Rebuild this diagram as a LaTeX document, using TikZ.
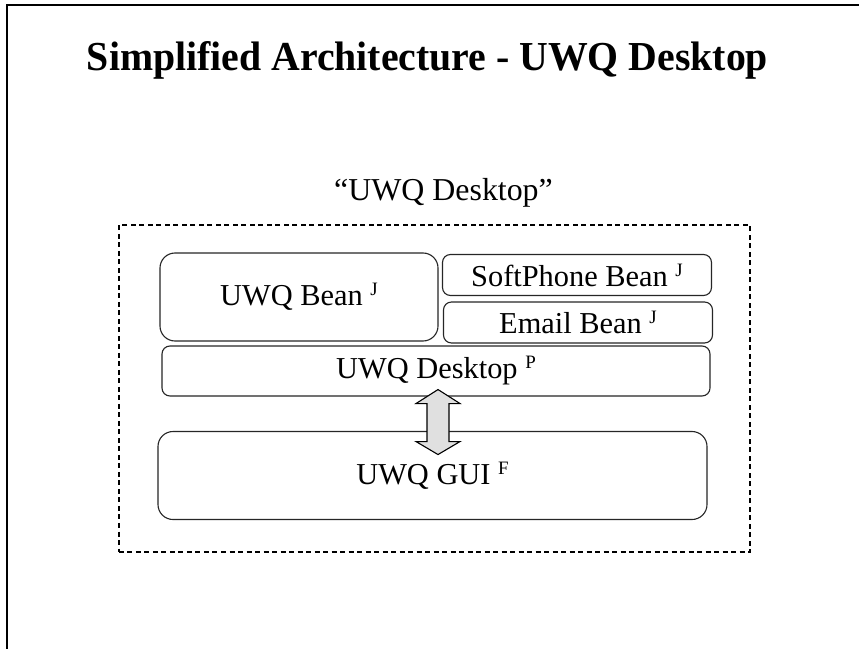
\documentclass[tikz,border=0pt]{standalone}
\usepackage{fontspec}
\setmainfont{Liberation Serif}
\usetikzlibrary{calc}

% superscript letter after a module name
\newcommand{\kindmark}[1]{\raisebox{10bp}{\fontsize{19}{19}\selectfont #1}}

\tikzset{
  frameline/.style={line width=1.5bp, black},
  groupbox/.style={draw=black, line width=1.2bp, dash pattern=on 5bp off 3.5bp},
  module/.style={draw=black!85, line width=1.1bp, fill=white, inner sep=0pt,
                 font=\fontsize{30.5}{30.5}\selectfont},
  bigmodule/.style={module, rounded corners=15bp},
  smallmodule/.style={module, rounded corners=8bp},
  linkarrow/.style={draw=black, line width=1.1bp, fill=black!12, line join=miter},
}

\begin{document}
\begin{tikzpicture}[x=1bp,y=-1bp]
\useasboundingbox (0,0) rectangle (859,649);

% page frame (top and left edges)
\coordinate (fbl) at (7,649);
\coordinate (ftl) at (7,5);
\coordinate (ftr) at (859,5);
\draw[frameline] (fbl) -- (ftl) -- (ftr);

% heading
\node[anchor=base, inner sep=0pt] (title) at (427.5,71)
  {\resizebox{681bp}{29bp}{\bfseries Simplified Architecture - UWQ Desktop}};

% group caption and dashed group outline
\node[anchor=base, inner sep=0pt, font=\fontsize{32}{32}\selectfont] (caption) at (443.5,200)
  {“UWQ Desktop”};
\node[groupbox, minimum width=631bp, minimum height=327bp, inner sep=0pt] (group) at (434.5,388.5) {};

% modules
\node[bigmodule, minimum width=278bp, minimum height=88bp] (bean) at (299,297)
  {UWQ Bean \kindmark{J}};
\node[smallmodule, minimum width=269bp, minimum height=41bp] (soft) at (577,275)
  {SoftPhone Bean \kindmark{J}};
\node[smallmodule, minimum width=269bp, minimum height=41bp] (email) at (578,322.5)
  {Email Bean \kindmark{J}};
\node[smallmodule, minimum width=548bp, minimum height=50bp] (desk) at (436,371)
  {UWQ Desktop \kindmark{P}};
\node[bigmodule, minimum width=549bp, minimum height=88bp] (gui) at (432.5,475.5)
  {UWQ GUI \kindmark{F}};

% two-way link between desktop and GUI
\coordinate (atop) at ($(desk.south)+(2,-7)$);
\coordinate (abot) at ($(atop)+(0,65)$);
\draw[linkarrow] (atop) -- ++(22,14) -- ++(-11,0) -- ($(abot)+(11,-13)$) -- ++(11,0)
  -- (abot) -- ++(-22,-13) -- ++(11,0) -- ($(atop)+(-11,14)$) -- ++(-11,0) -- cycle;
\end{tikzpicture}
\end{document}
